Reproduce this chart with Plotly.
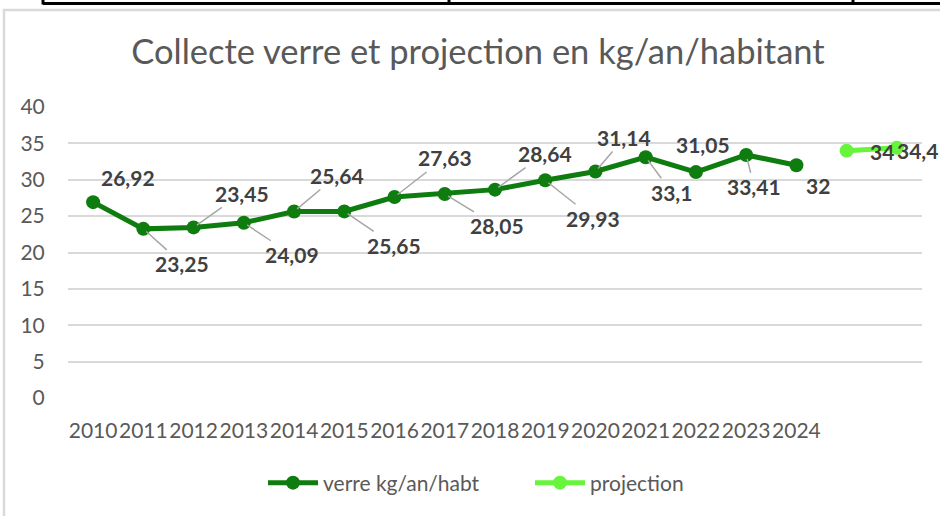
import plotly.graph_objects as go

# ---- data ----
years = [2010, 2011, 2012, 2013, 2014, 2015, 2016, 2017, 2018, 2019, 2020, 2021, 2022, 2023, 2024]
verre = [26.92, 23.25, 23.45, 24.09, 25.64, 25.65, 27.63, 28.05, 28.64, 29.93, 31.14, 33.1, 31.05, 33.41, 32]
proj_years = [2025, 2026]
projection = [34, 34.4]
tick_labels = [str(y) for y in years]
y_ticks = [0, 5, 10, 15, 20, 25, 30, 35, 40]

# ---- styles ----
DARK = "#0e7c0e"
LIGHT = "#66f53a"
GRID = "#d9d9d9"
TXT = "#595959"
LBL = "#404040"
FONT = "Lato"

# label offsets (pixels) and whether a leader line is drawn
verre_off = [(35, -25), (39, 35), (48, -34), (48, 32), (43, -36), (50, 34), (50, -39),
             (52, 32), (50, -36), (48, 38), (29, -34), (26, 35), (7, -28), (8, 32), (22, 20)]
verre_lead = [False, True, True, True, True, True, True, True, True, True, True, True, False, True, False]
proj_off = [(35, 1), (21, 3)]

def fmt(v):
    return f"{v:g}".replace(".", ",")

fig = go.Figure()
fig.add_trace(go.Scatter(x=years, y=verre, mode="lines+markers", name="verre kg/an/habt",
                         line=dict(color=DARK, width=5), marker=dict(color=DARK, size=14)))
fig.add_trace(go.Scatter(x=proj_years, y=projection, mode="lines+markers", name="projection",
                         line=dict(color=LIGHT, width=5), marker=dict(color=LIGHT, size=14)))

annotations = []
for x, v, (ax, ay), lead in zip(years, verre, verre_off, verre_lead):
    annotations.append(dict(x=x, y=v, xref="x", yref="y", text=fmt(v), showarrow=True,
                            ax=ax, ay=ay, arrowhead=0, arrowwidth=1.5, standoff=4,
                            arrowcolor="#a6a6a6" if lead else "rgba(0,0,0,0)",
                            font=dict(family=FONT, size=21, color=LBL, weight="bold")))
for x, v, (ax, ay) in zip(proj_years, projection, proj_off):
    annotations.append(dict(x=x, y=v, xref="x", yref="y", text=fmt(v), showarrow=True,
                            ax=ax, ay=ay, arrowhead=0, arrowcolor="rgba(0,0,0,0)",
                            font=dict(family=FONT, size=21, color=LBL, weight="bold")))

# decorative frame: chart border and table line above (paper coords)
L, R, T, B = 68, 922, 107, 398
def px(v):
    return (v - L) / (R - L)
def py(v):
    return (B - v) / (B - T)

shapes = [
    dict(type="rect", xref="paper", yref="paper", x0=px(4), x1=px(960), y0=py(540), y1=py(10),
         line=dict(color="#d9d9d9", width=2.5), layer="below"),
    dict(type="line", xref="paper", yref="paper", x0=px(43), x1=px(960), y0=py(3.5), y1=py(3.5),
         line=dict(color="black", width=3)),
]
for vx in [43, 449, 853]:
    shapes.append(dict(type="line", xref="paper", yref="paper", x0=px(vx), x1=px(vx),
                       y0=py(4.5), y1=py(-10), line=dict(color="black", width=3)))

fig.update_layout(
    width=940, height=516,
    margin=dict(l=L, r=940 - R, t=T, b=516 - B, autoexpand=False),
    paper_bgcolor="white", plot_bgcolor="white",
    font=dict(family=FONT, color=TXT),
    title=dict(text="Collecte verre et projection en kg/an/habitant", x=478 / 940, xanchor="center",
               y=1 - 52 / 516, yanchor="middle", yref="container",
               font=dict(family=FONT, size=34.5, color=TXT)),
    xaxis=dict(range=[2009.5, 2026.5], tickvals=years, ticktext=tick_labels, showgrid=False,
               zeroline=False, showline=False, ticks="outside", ticklen=14, tickcolor="rgba(0,0,0,0)",
               tickangle=0, automargin=False,
               tickfont=dict(family=FONT, size=21, color=TXT)),
    yaxis=dict(range=[0, 40], tickvals=y_ticks, showgrid=True, gridcolor=GRID, gridwidth=1.5,
               zeroline=False, showline=False, ticks="outside", ticklen=18, tickcolor="rgba(0,0,0,0)",
               automargin=False,
               tickfont=dict(family=FONT, size=21, color=TXT)),
    legend=dict(orientation="h", x=px(263), xanchor="left", y=py(483), yanchor="middle",
                font=dict(family=FONT, size=21, color=TXT), itemwidth=50, entrywidth=202),
    annotations=annotations,
    shapes=shapes,
)

fig.write_html("out.html", config={"displayModeBar": False},
               post_script="document.body.style.margin='0';document.body.style.overflow='hidden';")
